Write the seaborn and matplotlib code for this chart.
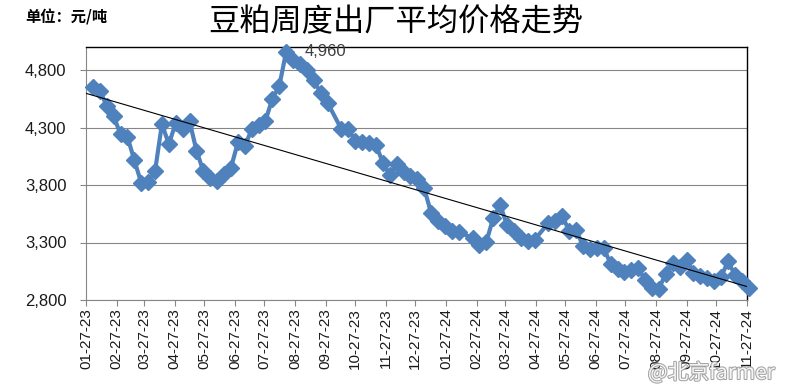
import numpy as np
import pandas as pd
import matplotlib
matplotlib.use("Agg")
import matplotlib.pyplot as plt
import matplotlib.dates as mdates
import matplotlib.patheffects as pe
import seaborn as sns

# ---- data ----
title = "豆粕周度出厂平均价格走势"
unit_label = "单位：元/吨"
start_date = "2023-02-03"
end_date = "2024-11-29"
missing_weeks = ["2023-10-06", "2024-02-16", "2024-05-03"]
prices = [
    4650, 4620, 4490, 4400, 4240, 4220, 4015, 3820, 3830, 3920,
    4330, 4155, 4340, 4285, 4355, 4100, 3920, 3860, 3835, 3900,
    3950, 4170, 4135, 4285, 4320, 4360, 4550, 4660, 4960, 4890,
    4850, 4800, 4710, 4600, 4515,
    4285, 4285, 4185, 4175, 4168, 4150, 3995, 3890, 3980, 3910,
    3880, 3855, 3770, 3555, 3490, 3440, 3400, 3390,
    3340, 3275, 3305, 3515, 3625, 3450, 3400, 3340, 3310, 3325,
    3470, 3490, 3530, 3400, 3410, 3270, 3240, 3250, 3250, 3115,
    3070, 3040, 3060, 3075, 2975, 2905, 2900, 3030, 3120, 3090,
    3150, 3035, 3010, 2990, 2965, 3000, 3135, 3020, 2965, 2905,
]
yticks = [2800, 3300, 3800, 4300, 4800]
peak_label = "4,960"

dates = pd.date_range(start_date, end_date, freq="7D")
dates = dates[~dates.isin(pd.to_datetime(missing_weeks))]
df = pd.DataFrame({"date": dates, "price": prices})

# ---- figure ----
sns.set_style("white")
plt.rcParams["font.family"] = ["Liberation Sans", "Noto Sans CJK SC", "DejaVu Sans"]

fig = plt.figure(figsize=(7.88, 3.87), dpi=100)
ax = fig.add_axes([86/788, 1-300/387, (746.7-86)/788, (300-47)/387])

blue = "#4F81BD"
sns.lineplot(data=df, x="date", y="price", ax=ax, color=blue, linewidth=3.0,
             marker="D", markersize=8.2, markeredgewidth=1, markeredgecolor=blue,
             markerfacecolor=blue, clip_on=False, zorder=3)

# linear trend line
xn = mdates.date2num(df["date"])
k, b = np.polyfit(xn, df["price"].values, 1)
x0 = mdates.date2num(pd.Timestamp("2023-01-27"))
x1 = mdates.date2num(pd.Timestamp("2024-11-27"))
ax.plot([x0, x1], [k*x0 + b, k*x1 + b], color="black", linewidth=0.8, zorder=4)

ax.set_xlim(pd.Timestamp("2023-01-27"), pd.Timestamp("2024-11-27"))
ax.set_ylim(2800, 5000)
ax.set_yticks(yticks)
ax.set_yticklabels([f"{v:,}" for v in yticks], fontsize=12, color="#1a1a1a")
ax.yaxis.grid(True, color="#868686", linewidth=0.8)
ax.xaxis.grid(False)

ax.xaxis.set_major_locator(mdates.MonthLocator(bymonthday=27))
ax.xaxis.set_major_formatter(mdates.DateFormatter("%m-%d-%y"))
plt.setp(ax.get_xticklabels(), rotation=90, fontsize=11, color="#1a1a1a")
ax.tick_params(axis="x", direction="out", length=4, width=0.8, color="#868686", pad=2, bottom=True)
ax.tick_params(axis="y", direction="out", length=4, width=0.8, color="#868686", pad=10, left=True)
ax.set_xlabel("")
ax.set_ylabel("")

for s in ["left", "bottom"]:
    ax.spines[s].set_color("#868686")
    ax.spines[s].set_linewidth(0.8)
for s in ["top", "right"]:
    ax.spines[s].set_color("black")
    ax.spines[s].set_linewidth(1.0)
    ax.spines[s].set_visible(True)

# peak label
pk = df["price"].idxmax()
ax.annotate(peak_label, xy=(df["date"][pk], df["price"][pk]), xytext=(13, 0),
            textcoords="offset points", ha="left", va="center", fontsize=12,
            color="#404040", annotation_clip=False)

fig.text(396/788, 1-22/387, title, ha="center", va="center", fontsize=22.5,
         family=["Noto Sans CJK SC", "DejaVu Sans"], color="black")
fig.text(25/788, 1-17/387, unit_label, ha="left", va="center", fontsize=11,
         fontweight="bold", family=["Noto Sans CJK SC", "DejaVu Sans"], color="black")

fig.text(775/788, 1-373/387, "@北京farmer", ha="right", va="center", fontsize=15,
         family=["Noto Sans CJK SC", "DejaVu Sans"], color="white", alpha=0.9,
         path_effects=[pe.withStroke(linewidth=1.5, foreground="#9a9a9a")])

fig.savefig("out.png", dpi=100)
